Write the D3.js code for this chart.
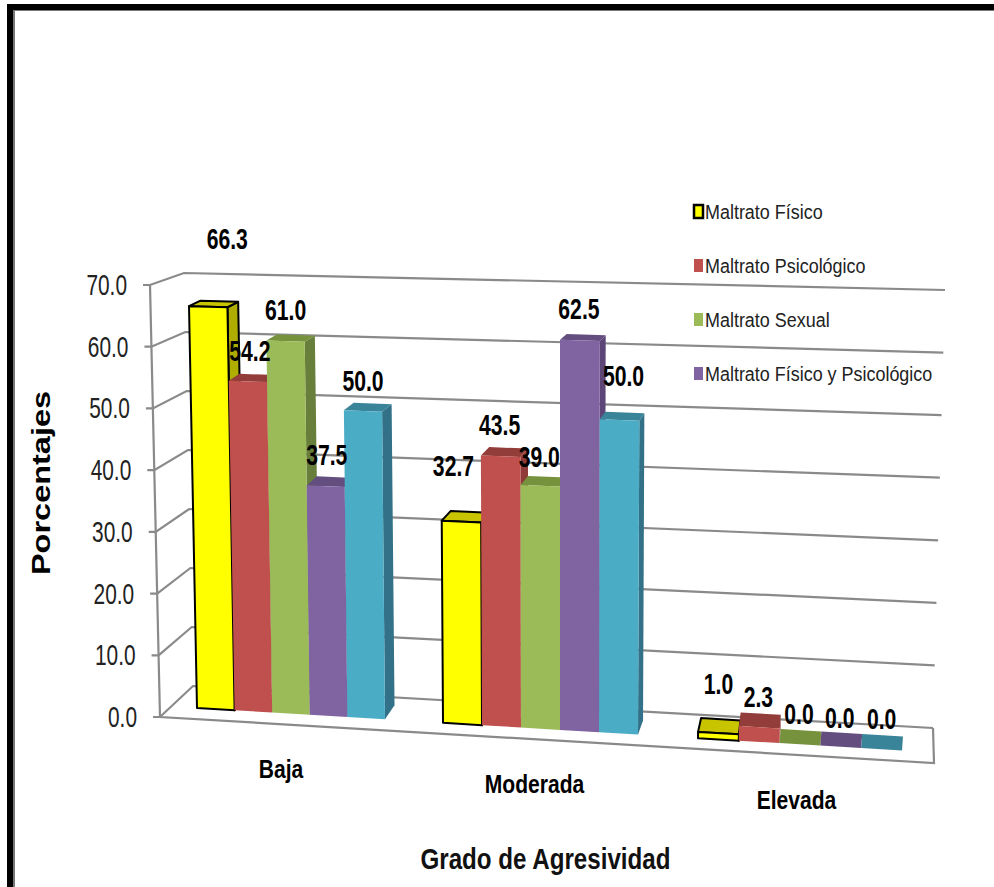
<!DOCTYPE html>
<html>
<head>
<meta charset="utf-8">
<script src="https://cdn.jsdelivr.net/npm/d3@7/dist/d3.min.js"></script>
<style>
html,body{margin:0;padding:0;background:#fff;overflow:hidden}
text{font-family:"Liberation Sans",Arial,sans-serif}
</style>
</head>
<body>
<svg id="chart" width="994" height="887"></svg>
<script>
// Data
const categories = ["Baja", "Moderada", "Elevada"];
const maltratoFisico = [66.3, 32.7, 1.0];
const maltratoPsicologico = [54.2, 43.5, 2.3];
const maltratoSexual = [61.0, 39.0, 0.0];
const maltratoFisicoPsicologico = [37.5, 62.5, 0.0];
const sinNombre = [50.0, 50.0, 0.0];
const seriesValues = [maltratoFisico, maltratoPsicologico, maltratoSexual, maltratoFisicoPsicologico, sinNombre];
const legendNames = ["Maltrato Físico", "Maltrato Psicológico", "Maltrato Sexual", "Maltrato Físico y Psicológico"];
const tickValues = [0, 10, 20, 30, 40, 50, 60, 70];

// Face colours per series: front, top, side
const frontColors = ["#ffff00", "#c0504d", "#9bbb59", "#8064a2", "#4bacc6"];
const topColors = ["#c8c400", "#933d3a", "#76923c", "#644e80", "#3a8499"];
const sideColors = ["#aead00", "#8f3b39", "#677f3b", "#5c4678", "#327187"];

// Label nudges from the centre of each bar's top edge [group][series]
const labelNudges = [
  [[19, -58], [2, -20], [0, -21], [1, -21], [0, -20]],
  [[-8, -46], [-1, -21], [-1, -19], [-1, -21], [4, -34]],
  [[0, -39], [-1, -20], [-1, -20], [-1, -19], [0, -20]]
];
const categoryNudges = [-10, -6, -3.5];

const svg = d3.select("#chart");

// Frame
svg.append("rect").attr("x", 7).attr("y", 4).attr("width", 987).attr("height", 883).attr("fill", "#000");
svg.append("rect").attr("x", 13).attr("y", 10).attr("width", 981).attr("height", 877).attr("fill", "#777");
svg.append("rect").attr("x", 15).attr("y", 11).attr("width", 979).attr("height", 876).attr("fill", "#fff");

// Oblique projection of the plot box: one pair of scales per vertical edge
const frontX = d3.scaleLinear().domain([0, 70]).range([160, 150]);
const frontY = d3.scaleLinear().domain([0, 70]).range([717, 285]);
const backLeftX = d3.scaleLinear().domain([0, 70]).range([193, 184]);
const backLeftY = d3.scaleLinear().domain([0, 70]).range([686, 273]);
const backRightX = d3.scaleLinear().domain([0, 70]).range([933, 945]);
const backRightY = d3.scaleLinear().domain([0, 70]).range([728, 290]);

// Bar slots along the floor: five slots per group with a gap between groups
const slotsPerGroup = 5;
const groupStart = [0, 6.5, 13];
const slotX = d3.scaleLinear().domain([0, 5, 6.5, 11.5, 13, 18]).range([197, 385, 443, 638, 698, 902]);
const baseY = d3.scaleLinear().domain([197, 902]).range([708, 750.5]);
const unitHeight = d3.scaleLinear().domain([197, 600]).range([6.06, 6.26]);
const depthX = d3.scaleLinear().domain([200, 450, 640, 760]).range([11, 9, 5, 1]).clamp(true);
const depthY = d3.scaleLinear().domain([0, 70]).range([14, 4.9]);
const leanX = d3.scaleLinear().domain([0, 70]).range([0, 0.0233]);
const leanOrigin = 559;

// Screen position of a bar corner at a given slot, value and depth (0 front, 1 back)
function project(slot, value, depth) {
  const xb = slotX(slot);
  return [
    xb + (xb - leanOrigin) * leanX(value) + depth * depthX(xb),
    baseY(xb) - value * unitHeight(xb) - depth * depthY(value)
  ];
}

const line = d3.line();
const gray = "#8a8a8a";

// Walls, floor and ticks
const grid = svg.append("g").attr("fill", "none").attr("stroke", gray).attr("stroke-width", 2.2);
tickValues.forEach(v => {
  grid.append("path").attr("d", line([
    [frontX(v) - 7, frontY(v)],
    [frontX(v), frontY(v)],
    [backLeftX(v), backLeftY(v)],
    [backRightX(v), backRightY(v)]
  ]));
});
grid.append("path").attr("d", line([[frontX(70), frontY(70)], [frontX(0), frontY(0)], [934, 763], [backRightX(0), backRightY(0)]]));

// Horizontally squeezed text anchored at a point
function label(parent, x, y, text, opts) {
  const o = Object.assign({ sx: 1, size: 20, weight: "normal", anchor: "middle", fill: "#111", rotate: 0 }, opts);
  parent.append("text")
    .attr("transform", `translate(${x},${y}) rotate(${o.rotate}) scale(${o.sx},1)`)
    .attr("text-anchor", o.anchor)
    .attr("font-size", o.size)
    .attr("font-weight", o.weight)
    .attr("fill", o.fill)
    .text(text);
}

// Value axis labels
const tickLabels = svg.append("g");
const tickFormat = d3.format(".1f");
tickValues.forEach(v => {
  label(tickLabels, frontX(v) - 23, frontY(v) + 10, tickFormat(v), { anchor: "end", size: 29, sx: 0.72, fill: "#222" });
});

// Bars, painted left to right so nearer faces cover the neighbour's side
const bars = svg.append("g");
const valueLabels = svg.append("g");
categories.forEach((cat, g) => {
  seriesValues.forEach((values, s) => {
    const v = values[g];
    const a = groupStart[g] + s;
    const b = a + 1;
    const stroke = s === 0 ? "#000" : "none";
    const width = s === 0 ? 2 : 0;
    const face = (pts, fill) => bars.append("path")
      .attr("d", line(pts) + "Z")
      .attr("fill", fill)
      .attr("stroke", stroke)
      .attr("stroke-width", width)
      .attr("stroke-linejoin", "round");
    face([project(b, 0, 0), project(b, v, 0), project(b, v, 1), project(b, 0, 1)], sideColors[s]);
    face([project(a, v, 0), project(b, v, 0), project(b, v, 1), project(a, v, 1)], topColors[s]);
    face([project(a, 0, 0), project(b, 0, 0), project(b, v, 0), project(a, v, 0)], frontColors[s]);
  });
});

// Value labels drawn above every bar
categories.forEach((cat, g) => {
  seriesValues.forEach((values, s) => {
    const v = values[g];
    const a = groupStart[g] + s;
    const [x0, y0] = project(a, v, 0);
    const [x1, y1] = project(a + 1, v, 0);
    const [nx, ny] = labelNudges[g][s];
    label(valueLabels, (x0 + x1) / 2 + nx, (y0 + y1) / 2 + ny, tickFormat(v), { size: 29, weight: "bold", sx: 0.73, fill: "#000" });
  });
});

// Category labels
const catLabels = svg.append("g");
categories.forEach((cat, g) => {
  const xc = slotX(groupStart[g] + slotsPerGroup / 2) + categoryNudges[g];
  label(catLabels, xc, baseY(xc) + 65, cat, { size: 26, weight: "bold", sx: 0.81, fill: "#000" });
});

// Axis titles
label(svg, 50, 483, "Porcentajes", { size: 25, weight: "bold", sx: 1.3, rotate: -90, fill: "#000" });
label(svg, 545.5, 869, "Grado de Agresividad", { size: 29, weight: "bold", sx: 0.833, fill: "#111" });

// Legend
const legend = svg.append("g");
const legendY = d3.scalePoint().domain(legendNames).range([219, 381]);
legendNames.forEach((name, i) => {
  const y = legendY(name);
  legend.append("rect")
    .attr("x", 694).attr("y", y - 14).attr("width", 9).attr("height", 13)
    .attr("fill", frontColors[i])
    .attr("stroke", i === 0 ? "#000" : "none")
    .attr("stroke-width", i === 0 ? 2.5 : 0);
  label(legend, 705, y, name, { anchor: "start", size: 21, sx: 0.855, fill: "#222" });
});
</script>
</body>
</html>
